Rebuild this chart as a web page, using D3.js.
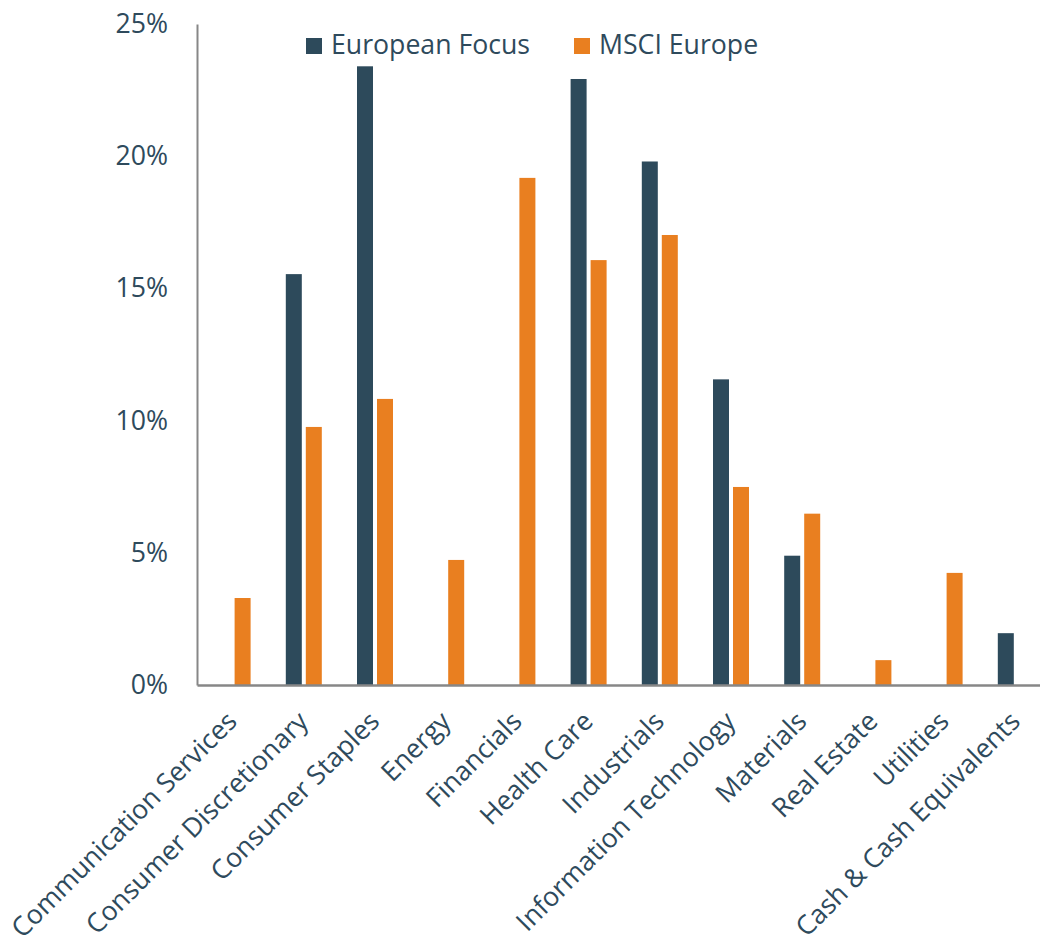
<!DOCTYPE html>
<html>
<head>
<meta charset="utf-8">
<script src="https://cdn.jsdelivr.net/npm/d3@7"></script>
<style>
  html, body { margin: 0; padding: 0; background: #ffffff; }
  svg { display: block; font-family: "Open Sans", sans-serif; }
</style>
</head>
<body>
<svg id="chart" width="1040" height="936"></svg>
<script>
// Sector weights (%) — European Focus vs. MSCI Europe
const categories = [
  "Communication Services", "Consumer Discretionary", "Consumer Staples",
  "Energy", "Financials", "Health Care", "Industrials",
  "Information Technology", "Materials", "Real Estate", "Utilities",
  "Cash & Cash Equivalents"
];
const seriesNames = ["European Focus", "MSCI Europe"];
const europeanFocus = [0, 15.54, 23.4, 0, 0, 22.92, 19.8, 11.56, 4.89, 0, 0, 1.96];
const msciEurope    = [3.29, 9.76, 10.82, 4.73, 19.18, 16.07, 17.02, 7.49, 6.48, 0.94, 4.24, 0];
const yTicks = [0, 5, 10, 15, 20, 25];

const colors = { "European Focus": "#2d4a5b", "MSCI Europe": "#e97f20" };
const textColor = "#2e4a5c";
const axisColor = "#878787";
const fontSize = "26.67px";

const svg = d3.select("#chart");

const x0 = d3.scaleBand().domain(categories).range([197, 1051.4]).padding(0);
const x1 = d3.scaleBand().domain(seriesNames)
  .range([x0.bandwidth() / 2 - 18, x0.bandwidth() / 2 + 18])
  .paddingInner(0.2).paddingOuter(0);
const y = d3.scaleLinear().domain([0, 25]).range([685, 24]);

const rows = categories.map((c, i) => ({
  category: c,
  values: [
    { key: seriesNames[0], value: europeanFocus[i] },
    { key: seriesNames[1], value: msciEurope[i] }
  ]
}));

// Bars
const groups = svg.append("g").selectAll("g")
  .data(rows).join("g")
  .attr("transform", d => `translate(${x0(d.category)},0)`);

groups.selectAll("rect")
  .data(d => d.values.filter(v => v.value > 0))
  .join("rect")
  .attr("x", d => x1(d.key))
  .attr("width", x1.bandwidth())
  .attr("y", d => y(d.value))
  .attr("height", d => y(0) - y(d.value))
  .attr("fill", d => colors[d.key]);

// Y axis (line + labels, no tick marks)
const yAxis = svg.append("g")
  .attr("transform", "translate(197,0)")
  .call(d3.axisLeft(y).tickValues(yTicks).tickSize(0).tickPadding(29)
    .tickFormat(d => d + "%"));
yAxis.select(".domain").attr("stroke", axisColor).attr("stroke-width", 2);
yAxis.selectAll("text")
  .attr("fill", textColor)
  .style("font-size", fontSize)
  .style("font-family", "'Open Sans', sans-serif");

// X axis baseline
const xAxis = svg.append("g")
  .attr("transform", "translate(0,685)")
  .call(d3.axisBottom(x0).tickSize(0).tickFormat(""));
xAxis.select(".domain").attr("stroke", axisColor).attr("stroke-width", 2.5);

// Rotated category labels
svg.append("g").selectAll("text")
  .data(categories).join("text")
  .attr("text-anchor", "end")
  .attr("transform", d => `translate(${x0(d) + x0.bandwidth() / 2 + 6},723) rotate(-45)`)
  .attr("fill", textColor)
  .style("font-size", fontSize)
  .text(d => d);

// Legend
const legendX = [306, 574];
const legend = svg.append("g").selectAll("g")
  .data(seriesNames).join("g")
  .attr("transform", (d, i) => `translate(${legendX[i]},38)`);
legend.append("rect")
  .attr("width", 16).attr("height", 16)
  .attr("fill", d => colors[d]);
legend.append("text")
  .attr("x", 25).attr("y", 16)
  .attr("fill", textColor)
  .style("font-size", fontSize)
  .text(d => d);
</script>
</body>
</html>
